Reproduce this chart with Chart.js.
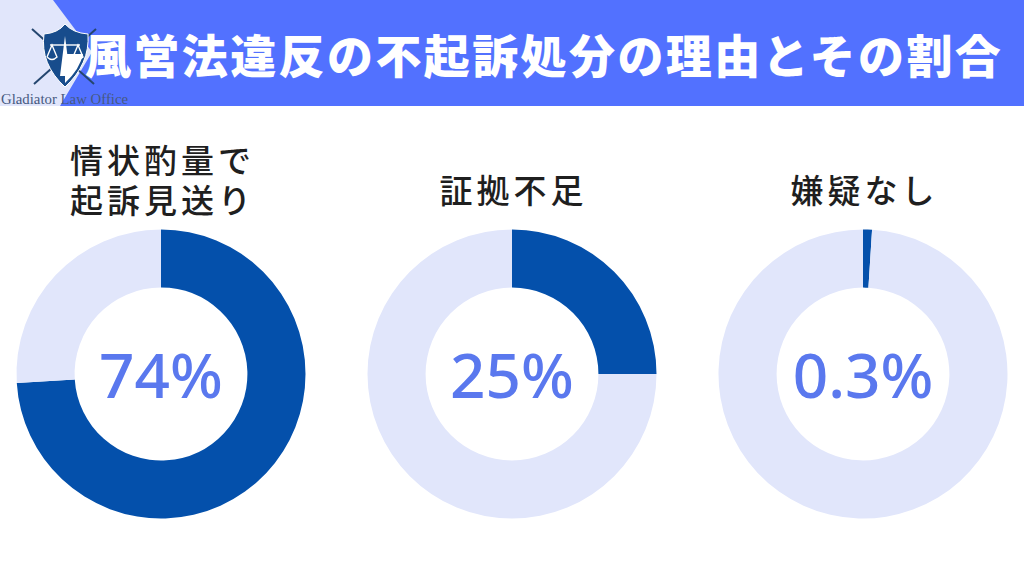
<!DOCTYPE html>
<html lang="ja">
<head>
<meta charset="UTF-8">
<title>風営法違反の不起訴処分の理由とその割合</title>
<script src="https://cdn.jsdelivr.net/npm/chart.js@4/dist/chart.umd.min.js"></script>
<style>
  html, body { margin: 0; padding: 0; background: #fff; }
  #page { position: relative; width: 1024px; height: 576px; overflow: hidden; font-family: "Noto Sans CJK JP", sans-serif; }
  #band { position: absolute; left: 0; top: 0; width: 1024px; height: 106px; background: #e1e6fb; }
  #bandBlue { position: absolute; left: 0; top: 0; width: 1024px; height: 106px; background: #5271ff;
              clip-path: polygon(53px 0, 1024px 0, 1024px 106px, 60px 106px, 92px 52px); }
  #logo { position: absolute; left: 28px; top: 22px; }
  #firm { position: absolute; left: 1px; top: 91px; font: 14.8px "Liberation Serif", serif; color: #46597f; white-space: nowrap; }
  #heading { position: absolute; left: 85px; top: 18px; color: #fff; font-size: 46px; line-height: 70px; height: 70px; font-weight: 900; letter-spacing: 2.4px; white-space: nowrap; margin: 0; }
  .ringTitle { position: absolute; width: 340px; text-align: center; color: #1f1f1f; font-size: 33px; line-height: 39.5px; letter-spacing: 4px; font-weight: 500; }
  .ringBox { position: absolute; top: 224px; width: 300px; height: 300px; }
  .ringValue { position: absolute; top: 324px; width: 300px; height: 100px; line-height: 100px; text-align: center; color: #5a78ee; font-family: "Noto Sans", sans-serif; font-weight: 500; font-size: 62px; }
</style>
</head>
<body>
<div id="page">
  <div id="band"></div>
  <div id="bandBlue"></div>
  <svg id="logo" width="72" height="68" viewBox="0 0 72 68">
    <g stroke="#24466f" stroke-width="2">
      <line x1="4" y1="7" x2="66" y2="62"/>
      <line x1="68" y1="7" x2="6" y2="62"/>
    </g>
    <path d="M16 12 Q30 11 37 2 Q45 11 60 12 Q62 42 37 65 Q12 42 16 12 Z" fill="#174c8c" stroke="#fff" stroke-width="1"/>
    <path d="M37 5 Q44 13 57 14 Q58 40 37 61 Z" fill="#174c8c"/>
    <path d="M37 32 L55 32 Q52 47 37 61 Z" fill="#fff"/>
    <path d="M37 14 L42 54 L32 54 Z" fill="#fff"/>
    <g stroke="#fff" stroke-width="1.4" fill="none">
      <line x1="22" y1="23" x2="52" y2="23"/>
      <path d="M19 35 L24 23 L29 35 Q24 40 19 35"/>
      <path d="M45 35 L50 23 L55 35 Q50 40 45 35"/>
    </g>
  </svg>
  <div id="firm">Gladiator Law Office</div>
  <h1 id="heading">風営法違反の不起訴処分の理由とその割合</h1>
</div>

<script>
// 見出しと数値
const ringTitles = [['情状酌量で', '起訴見送り'], ['証拠不足'], ['嫌疑なし']];
const shareLabels = ['74%', '25%', '0.3%'];
// 円グラフに描かれている弧の長さ（%）。0.3%の弧は画像上で約1%の幅に描かれている
const drawnShares = [74, 25, 1];

const ringCenters = [161, 512, 863];
const titleTops = [140, 170, 170];
const page = document.getElementById('page');

ringCenters.forEach(function (cx, i) {
    const title = document.createElement('div');
    title.className = 'ringTitle';
    title.style.left = (cx - 170 + 1.5) + 'px';
    title.style.top = titleTops[i] + 'px';
    title.innerHTML = ringTitles[i].join('<br>');
    page.appendChild(title);

    const box = document.createElement('div');
    box.className = 'ringBox';
    box.style.left = (cx - 150) + 'px';
    const canvas = document.createElement('canvas');
    box.appendChild(canvas);
    page.appendChild(box);

    const value = document.createElement('div');
    value.className = 'ringValue';
    value.style.left = (cx - 150) + 'px';
    value.textContent = shareLabels[i];
    page.appendChild(value);

    new Chart(canvas, {
        type: 'doughnut',
        data: {
            labels: [shareLabels[i], ''],
            datasets: [{
                data: [drawnShares[i], 100 - drawnShares[i]],
                backgroundColor: ['#0450ab', '#e1e6fb'],
                borderWidth: 0
            }]
        },
        options: {
            animation: false,
            responsive: true,
            maintainAspectRatio: false,
            radius: 144.5,
            cutout: '59.8%',
            plugins: { legend: { display: false }, tooltip: { enabled: false } }
        }
    });
});
</script>
</body>
</html>
